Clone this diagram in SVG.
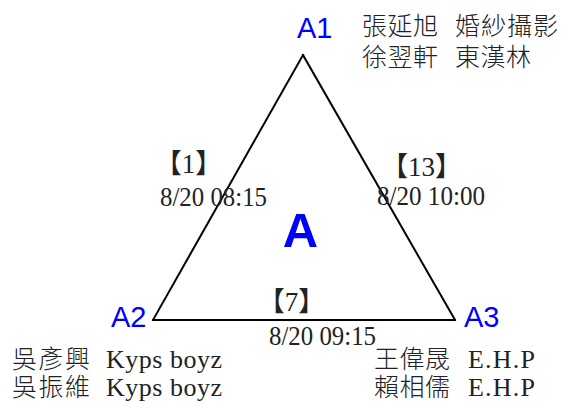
<svg xmlns="http://www.w3.org/2000/svg" width="565" height="403" viewBox="0 0 565 403">
<style>
.bg{fill:#fff}
.edge{stroke:#000;stroke-width:2;fill:none;stroke-linecap:square}
.node{font-family:Arial,"Liberation Sans",sans-serif;fill:#0000ff;font-size:29px}
.big{font-family:Arial,"Liberation Sans",sans-serif;fill:#0000ff;font-size:49px;font-weight:bold}
.cjk{font-family:"Noto Sans CJK TC","Noto Sans CJK SC",sans-serif;font-size:25px;font-weight:300;fill:#222}
.lat{font-family:"Liberation Serif",serif;font-size:26px;fill:#222}
.num{font-family:"Liberation Serif","Noto Sans CJK TC",serif;font-size:27px;fill:#222}
</style>
<rect class="bg" width="565" height="403"/>
<g id="connectors">
  <line class="edge" x1="303" y1="55" x2="153" y2="320"/>
  <line class="edge" x1="303" y1="55" x2="455" y2="320"/>
  <line class="edge" x1="153" y1="320" x2="455" y2="320"/>
  <g id="label-A1-A2">
    <text class="num" x="188.5" y="173" text-anchor="middle">【1】</text>
    <text class="num" x="160" y="206" textLength="107" lengthAdjust="spacingAndGlyphs">8/20 08:15</text>
  </g>
  <g id="label-A1-A3">
    <text class="num" x="421.5" y="176" text-anchor="middle">【13】</text>
    <text class="num" x="377" y="205" textLength="108" lengthAdjust="spacingAndGlyphs">8/20 10:00</text>
  </g>
  <g id="label-A2-A3">
    <text class="num" x="291.5" y="311" text-anchor="middle">【7】</text>
    <text class="num" x="269" y="345" textLength="107" lengthAdjust="spacingAndGlyphs">8/20 09:15</text>
  </g>
</g>
<g id="node-A">
  <text class="big" x="300.5" y="247" text-anchor="middle">A</text>
</g>
<g id="node-A1">
  <text class="node" x="297" y="38">A1</text>
  <text class="cjk" x="362" y="35" textLength="76" lengthAdjust="spacing">張延旭</text>
  <text class="cjk" x="455" y="35" textLength="103" lengthAdjust="spacing">婚紗攝影</text>
  <text class="cjk" x="362" y="66" textLength="76" lengthAdjust="spacing">徐翌軒</text>
  <text class="cjk" x="455" y="66" textLength="76" lengthAdjust="spacing">東漢林</text>
</g>
<g id="node-A2">
  <text class="node" x="111" y="327">A2</text>
  <text class="cjk" x="12" y="368" textLength="78" lengthAdjust="spacing">吳彥興</text>
  <text class="lat" x="106" y="368" textLength="116" lengthAdjust="spacing">Kyps boyz</text>
  <text class="cjk" x="12" y="396" textLength="78" lengthAdjust="spacing">吳振維</text>
  <text class="lat" x="106" y="396" textLength="116" lengthAdjust="spacing">Kyps boyz</text>
</g>
<g id="node-A3">
  <text class="node" x="464" y="327">A3</text>
  <text class="cjk" x="374" y="368" textLength="76" lengthAdjust="spacing">王偉晟</text>
  <text class="lat" x="468" y="368" textLength="67" lengthAdjust="spacing">E.H.P</text>
  <text class="cjk" x="374" y="396" textLength="76" lengthAdjust="spacing">賴相儒</text>
  <text class="lat" x="468" y="396" textLength="67" lengthAdjust="spacing">E.H.P</text>
</g>
</svg>
